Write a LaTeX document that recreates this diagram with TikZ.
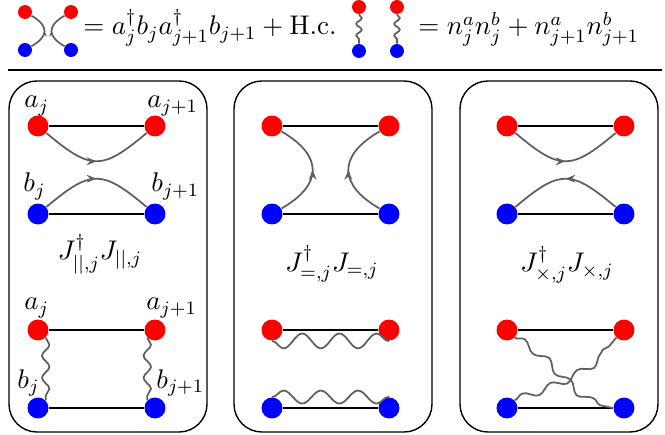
\RequirePackage{fix-cm}
\documentclass[tikz,border=0pt]{standalone}
\usepackage{amsmath}
\usetikzlibrary{arrows.meta, decorations.pathmorphing, decorations.markings}
\definecolor{dotred}{RGB}{255,0,0}
\definecolor{dotblue}{RGB}{0,0,255}
\definecolor{hopgray}{RGB}{95,95,95}

\begin{document}
\begin{tikzpicture}[x=0.43pt, y=0.43pt, font=\fontsize{11.6pt}{14pt}\selectfont,
  rdot/.style={circle, fill=dotred, minimum size=9pt, inner sep=0pt},
  bdot/.style={circle, fill=dotblue, minimum size=9pt, inner sep=0pt},
  small/.style={minimum size=6pt},
  bond/.style={black, line width=0.5pt},
  hop/.style={hopgray, line width=0.75pt, postaction={decorate},
    decoration={markings, mark=at position 0.5 with {\arrow{Stealth[length=#1, width=0.8*#1]}}}},
  hop/.default=4.2pt,
  wavy/.style 2 args={hopgray, line width=0.75pt, decorate,
    decoration={snake, amplitude=#1, segment length=#2}},
  lbl/.style={anchor=base west, inner sep=0pt},
  panel/.style={draw, line width=0.6pt, rounded corners=12pt}]
  \useasboundingbox (0,0) rectangle (665,435);

  % legend
  \node[rdot, small] (hra) at (25,423) {};
  \node[rdot, small] (hrb) at (71,423) {};
  \node[bdot, small] (hba) at (25,385) {};
  \node[bdot, small] (hbb) at (71,385) {};
  \draw[hop=2.4pt] (hba) to[out=30, in=-30, looseness=1.7] (hra);
  \draw[hop=2.4pt] (hbb) to[out=150, in=210, looseness=1.7] (hrb);
  \node[lbl] (hopeq) at (83,400) {$=a_j^\dagger b_j a_{j+1}^\dagger b_{j+1}+\mathrm{H.c.}$};
  \foreach \k/\x in {1/359, 2/397} {
    \node[rdot, small] (wr\k) at (\x,428) {};
    \node[bdot, small] (wb\k) at (\x,384) {};
    \draw[wavy={1.2pt}{5pt}] (wr\k) -- (wb\k);
  }
  \node[lbl] (denseq) at (418,400) {$=n^a_j n^b_j+n^a_{j+1}n^b_{j+1}$};
  \draw[line width=1.1pt] (8,365) -- (662,365);

  % panels
  \foreach \p/\x in {1/9, 2/234, 3/460}
    \draw[panel] (\x,3) rectangle (\x+198,354);
  \foreach \p/\x in {1/38, 2/272, 3/507} {
    \node[rdot] (a\p) at (\x,309) {};
    \node[rdot] (ap\p) at (\x+117,309) {};
    \node[bdot] (b\p) at (\x,221) {};
    \node[bdot] (bp\p) at (\x+117,221) {};
    \node[rdot] (la\p) at (\x,105) {};
    \node[rdot] (lap\p) at (\x+117,105) {};
    \node[bdot] (lb\p) at (\x,27) {};
    \node[bdot] (lbp\p) at (\x+117,27) {};
    \draw[bond] (a\p) -- (ap\p);
    \draw[bond] (b\p) -- (bp\p);
    \draw[bond] (la\p) -- (lap\p);
    \draw[bond] (lb\p) -- (lbp\p);
  }

  % parallel
  \draw[hop] (a1) to[out=-40, in=-140, looseness=1.5] (ap1);
  \draw[hop] (b1) to[out=40, in=140, looseness=1.5] (bp1);
  \node[lbl] at (24,327) {$a_j$};
  \node[lbl] at (147,327) {$a_{j+1}$};
  \node[lbl] at (23,243) {$b_j$};
  \node[lbl] at (151,243) {$b_{j+1}$};
  \node[anchor=base] (jpar) at (100,175) {$J^\dagger_{||,j}J_{||,j}$};
  \draw[wavy={1.6pt}{9.5pt}] (la1.-45) -- (lb1.45);
  \draw[wavy={1.6pt}{9.5pt}] (lap1.-135) -- (lbp1.135);
  \node[lbl] at (24,125) {$a_j$};
  \node[lbl] at (146,125) {$a_{j+1}$};
  \node[lbl] at (17,47) {$b_j$};
  \node[lbl] at (156,47) {$b_{j+1}$};

  % equal
  \draw[hop] (b2) to[out=30, in=-30, looseness=1.6] (a2);
  \draw[hop] (bp2) to[out=150, in=210, looseness=1.6] (ap2);
  \node[anchor=base] (jeq) at (332,164) {$J^\dagger_{=,j}J_{=,j}$};
  \draw[wavy={3.2pt}{16pt}, decoration={mirror}] (la2.south) -- (lap2.south);
  \draw[wavy={2.8pt}{16pt}] (lb2.north) -- (lbp2.north);

  % cross
  \draw[hop] (a3) to[out=-40, in=-140, looseness=1.5] (ap3);
  \draw[hop] (bp3) to[out=140, in=40, looseness=1.5] (b3);
  \node[anchor=base] (jcross) at (567,163) {$J^\dagger_{\times,j}J_{\times,j}$};
  \draw[wavy={1.6pt}{13pt}] (la3.-45) to[out=-30, in=170] (lbp3.west);
  \draw[wavy={1.6pt}{13pt}] (lb3.45) to[out=20, in=-130] (lap3.-135);
\end{tikzpicture}
\end{document}
